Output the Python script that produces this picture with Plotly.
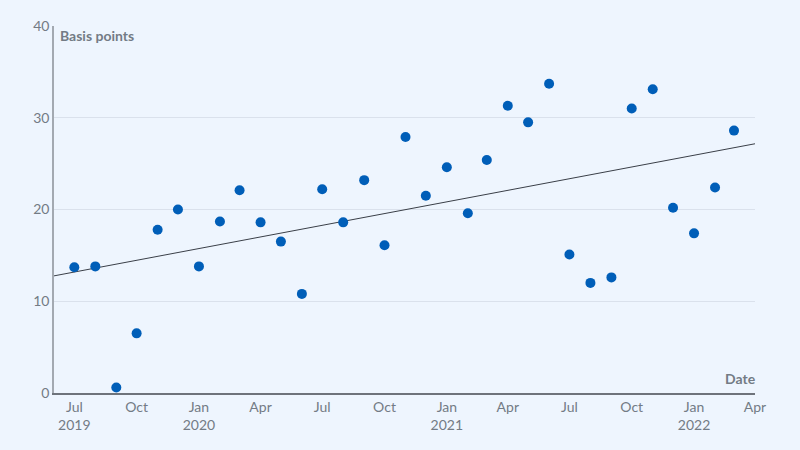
import numpy as np
import pandas as pd
import plotly.graph_objects as go

dates = pd.date_range("2019-07-01", "2022-03-01", freq="MS")
values = [13.7, 13.8, 0.6, 6.5, 17.8, 20.0, 13.8, 18.7, 22.1, 18.6, 16.5, 10.8,
          22.2, 18.6, 23.2, 16.1, 27.9, 21.5, 24.6, 19.6, 25.4, 31.3, 29.5, 33.7,
          15.1, 12.0, 12.6, 31.0, 33.1, 20.2, 17.4, 22.4, 28.6]
tick_dates = ["2019-07-01", "2019-10-01", "2020-01-01", "2020-04-01", "2020-07-01",
              "2020-10-01", "2021-01-01", "2021-04-01", "2021-07-01", "2021-10-01",
              "2022-01-01", "2022-04-01"]
tick_labels = ["Jul<br>2019", "Oct", "Jan<br>2020", "Apr", "Jul", "Oct",
               "Jan<br>2021", "Apr", "Jul", "Oct", "Jan<br>2022", "Apr"]
x_range = ["2019-06-01", "2022-04-01"]

# least-squares trend over the series
t = np.arange(len(values))
slope, intercept = np.polyfit(t, values, 1)
tr_idx = np.array([-1, len(values)])
trend_x = [pd.Timestamp(x_range[0]), pd.Timestamp(x_range[1])]
trend_y = list(intercept + slope * tr_idx)

bg = "#EEF5FE"
grey = "#737b85"
font = "Lato"

fig = go.Figure()
fig.add_trace(go.Scatter(x=trend_x, y=trend_y, mode="lines",
                         line=dict(color="#3a3f48", width=1), hoverinfo="skip"))
fig.add_trace(go.Scatter(x=dates, y=values, mode="markers",
                         marker=dict(color="#005EB8", size=10)))

fig.update_layout(
    width=800, height=450,
    paper_bgcolor=bg, plot_bgcolor=bg,
    margin=dict(l=54, r=45, t=26, b=57),
    showlegend=False,
    font=dict(family=font, size=14, color=grey),
    xaxis=dict(range=x_range, tickvals=tick_dates, ticktext=tick_labels,
               showgrid=False, showline=True, linecolor="#6e737b", linewidth=1.5,
               ticks="", zeroline=False, tickfont=dict(size=14, color=grey)),
    yaxis=dict(range=[0, 40], tickvals=[0, 10, 20, 30, 40], showgrid=True,
               gridcolor="#dae1ec", gridwidth=1, showline=True,
               linecolor="#a3a9b1", linewidth=1.5, ticks="", zeroline=False,
               tickfont=dict(size=14, color=grey)),
    annotations=[
        dict(text="<b>Basis points</b>", xref="paper", yref="paper", x=0, y=1,
             xanchor="left", yanchor="top", xshift=4, yshift=1, showarrow=False,
             font=dict(family=font, size=14, color=grey)),
        dict(text="<b>Date</b>", xref="paper", yref="paper", x=1, y=0,
             xanchor="right", yanchor="bottom", xshift=3, yshift=4, showarrow=False,
             font=dict(family=font, size=14, color=grey)),
    ],
)

fig.write_html("out.html", config={"displayModeBar": False},
               post_script="document.body.style.margin='0';document.body.style.overflow='hidden';")
